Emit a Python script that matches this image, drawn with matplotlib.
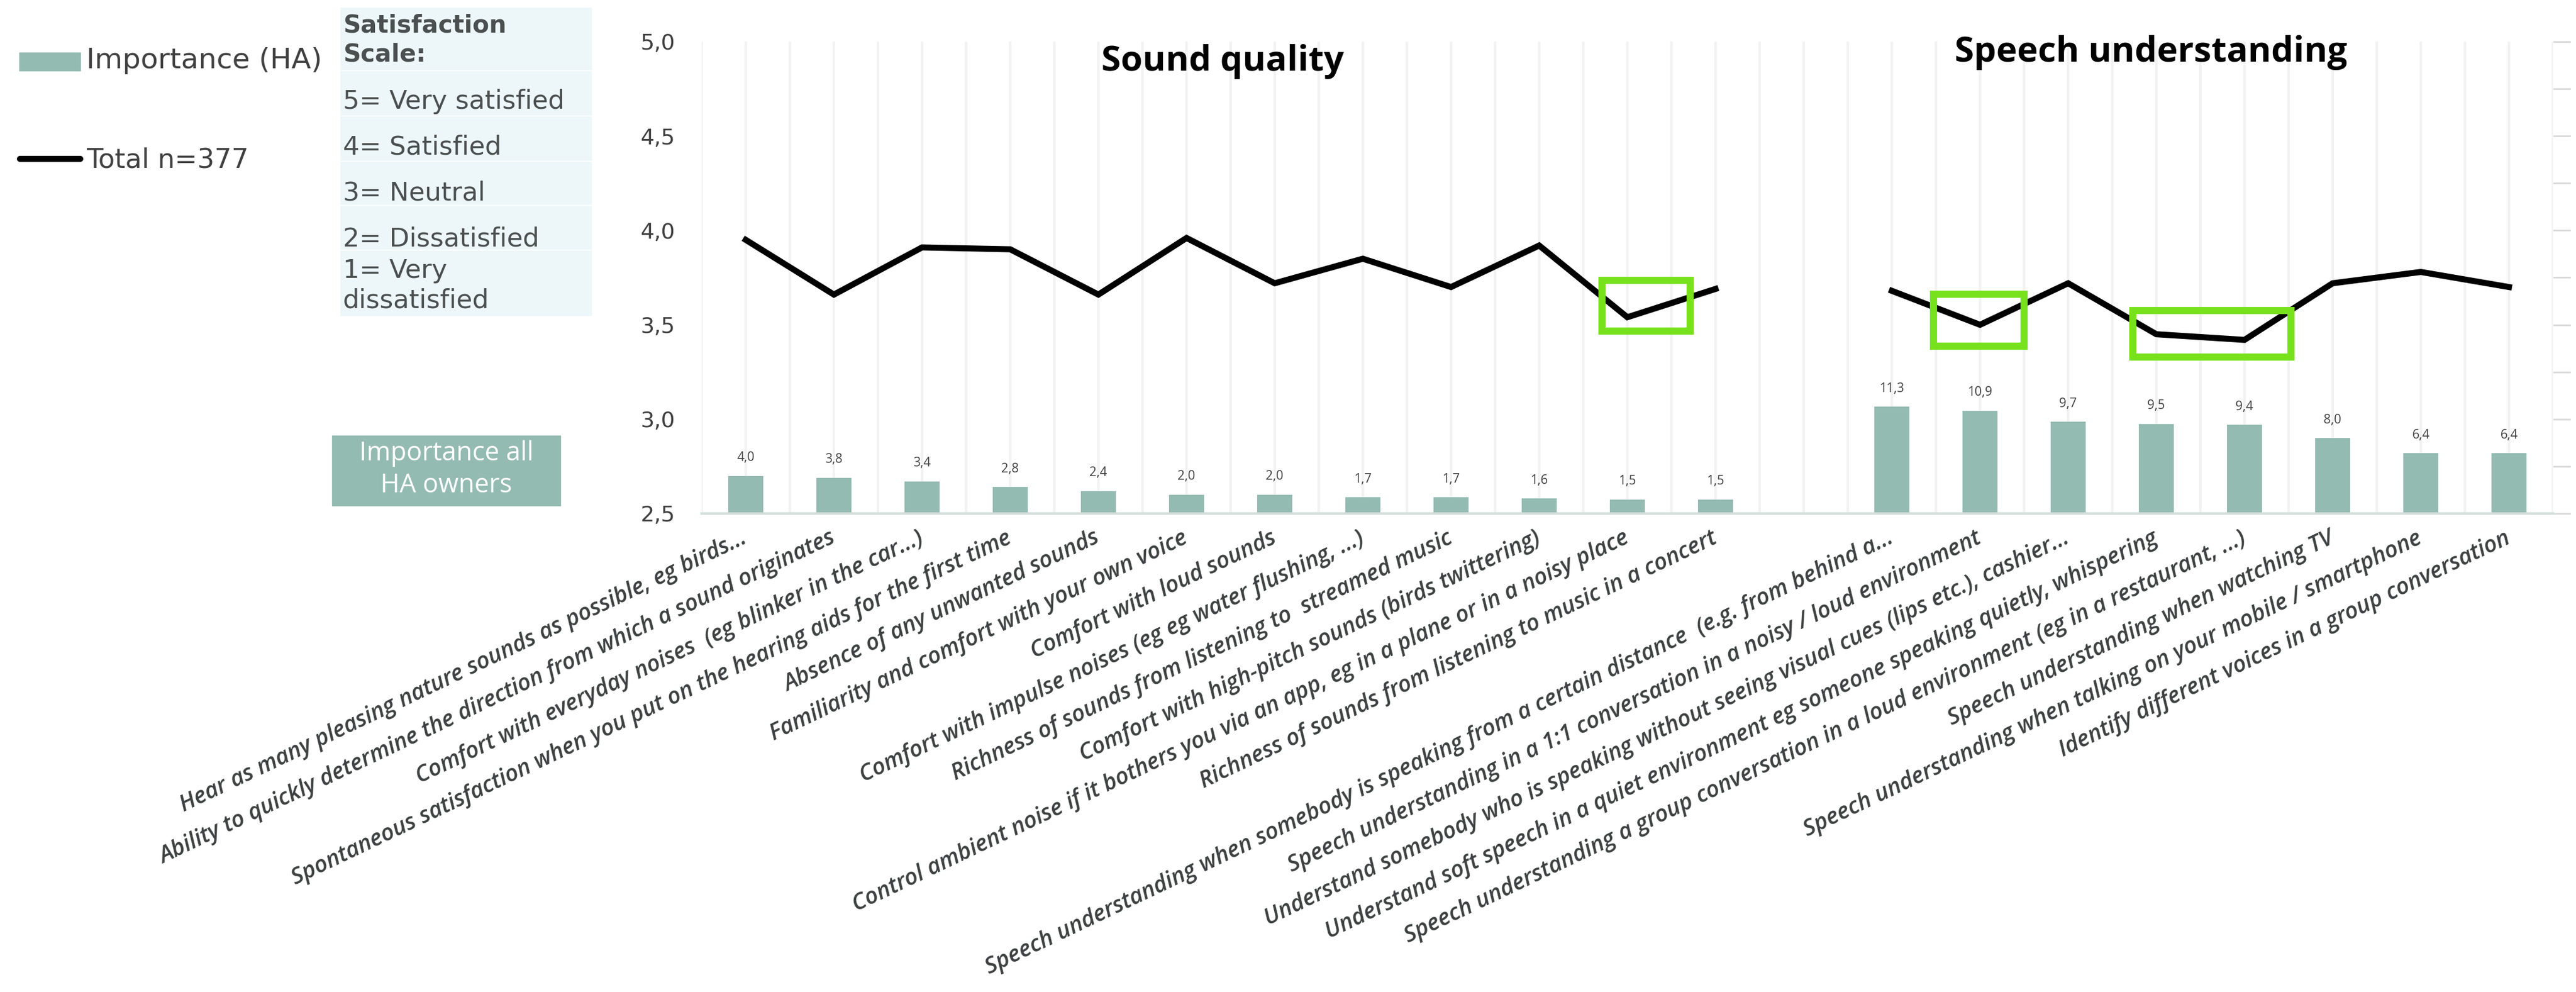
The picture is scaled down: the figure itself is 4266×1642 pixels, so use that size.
import numpy as np
import matplotlib
matplotlib.use("Agg")
import matplotlib.pyplot as plt
from matplotlib.patches import Rectangle
from matplotlib.lines import Line2D

# ---------------------------------------------------------------- data
sound_labels = [
    "Hear as many pleasing nature sounds as possible, eg birds...",
    "Ability to quickly determine the direction from which a sound originates",
    "Comfort with everyday noises  (eg blinker in the car...)",
    "Spontaneous satisfaction when you put on the hearing aids for the first time",
    "Absence of any unwanted sounds",
    "Familiarity and comfort with your own voice",
    "Comfort with loud sounds",
    "Comfort with impulse noises (eg eg water flushing, ...)",
    "Richness of sounds from listening to  streamed music",
    "Comfort with high-pitch sounds (birds twittering)",
    "Control ambient noise if it bothers you via an app, eg in a plane or in a noisy place",
    "Richness of sounds from listening to music in a concert",
]
speech_labels = [
    "Speech understanding when somebody is speaking from a certain distance  (e.g. from behind a...",
    "Speech understanding in a 1:1 conversation in a noisy / loud environment",
    "Understand somebody who is speaking without seeing visual cues (lips etc.), cashier...",
    "Understand soft speech in a quiet environment eg someone speaking quietly, whispering",
    "Speech understanding a group conversation in a loud environment (eg in a restaurant, ...)",
    "Speech understanding when watching TV",
    "Speech understanding when talking on your mobile / smartphone",
    "Identify different voices in a group conversation",
]
sound_importance = [4.0, 3.8, 3.4, 2.8, 2.4, 2.0, 2.0, 1.7, 1.7, 1.6, 1.5, 1.5]
speech_importance = [11.3, 10.9, 9.7, 9.5, 9.4, 8.0, 6.4, 6.4]
sound_satisfaction = [3.95, 3.66, 3.91, 3.90, 3.66, 3.96, 3.72, 3.85, 3.70, 3.92, 3.54, 3.69]
speech_satisfaction = [3.68, 3.50, 3.72, 3.45, 3.42, 3.72, 3.78, 3.70]
group_titles = ["Sound quality", "Speech understanding"]
scale_title = ["Satisfaction", "Scale:"]
scale_rows = ["5= Very satisfied", "4= Satisfied", "3= Neutral",
              "2= Dissatisfied", "1= Very\ndissatisfied"]
# hand-placed frames around the weakest items: (x from, x to, y from, y to)
highlight_frames = [(9.71, 10.71, 3.467, 3.736),
                    (13.47, 14.50, 3.387, 3.662),
                    (15.73, 17.53, 3.329, 3.576)]
sat_ticks = [2.5, 3.0, 3.5, 4.0, 4.5, 5.0]

# ---------------------------------------------------------------- layout
W, H, DPI = 4266, 1642, 100
TEAL = "#94bbb1"
GREEN = "#77e21b"
DARK = "#404040"
SCALE_TXT = "#4a4f50"
CELL = "#edf6f8"


def fx(px):
    return px / W


def fy(py):
    return 1 - py / H


labels = sound_labels + [""] + speech_labels
importance = np.array(sound_importance + [np.nan] + speech_importance)
satisfaction = np.array(sound_satisfaction + [np.nan] + speech_satisfaction)
x = np.arange(len(labels))

fig = plt.figure(figsize=(W / DPI, H / DPI), dpi=DPI)
ax = fig.add_axes([fx(1162), fy(850), fx(4228) - fx(1162), fy(69) - fy(850)])
ax2 = ax.twinx()

# bars (importance) on the right-hand scale
ok = ~np.isnan(importance)
ax.bar(x[ok], importance[ok], width=0.4, color=TEAL, zorder=2)
for xi, v in zip(x[ok], importance[ok]):
    ax.annotate(f"{v:.1f}".replace(".", ","), (xi, v), xytext=(0, 14),
                textcoords="offset points", ha="center", va="bottom",
                fontsize=15, color=DARK, family="Open Sans")
ax.set_ylim(0, 50)
ax.set_yticks(np.arange(0, 51, 5))
ax.yaxis.tick_right()
ax.tick_params(axis="y", length=21, width=2, color="#d9d9d9", labelright=False)
ax.set_xlim(-0.5, len(labels) - 0.5)
ax.set_xticks(x)
ax.set_xticks(np.arange(-0.5, len(labels), 1.0), minor=True)
ax.grid(which="both", axis="x", color="#f2f2f2", lw=3, zorder=0)
ax.set_axisbelow(True)
ax.set_xticklabels(labels, rotation=25.5, ha="right", va="center",
                   rotation_mode="anchor", fontsize=27.3, style="italic",
                   family="Open Sans", fontweight="semibold", color="#3c3f3f")
ax.tick_params(axis="x", which="both", length=0, pad=28)
for side in ("top", "left", "right"):
    ax.spines[side].set_visible(False)
ax.spines["bottom"].set_color("#d3dedb")
ax.spines["bottom"].set_linewidth(3)

# line (satisfaction) on the left-hand scale
ax2.plot(x, satisfaction, color="black", lw=7.2, solid_joinstyle="miter", zorder=5)
ax2.set_ylim(2.5, 5.0)
ax2.set_yticks(sat_ticks)
ax2.set_yticklabels([f"{t:.1f}".replace(".", ",") for t in sat_ticks],
                    fontsize=26, color=DARK, family="DejaVu Sans")
ax2.yaxis.tick_left()
ax2.tick_params(axis="y", length=0, pad=32)
for side in ("top", "left", "right", "bottom"):
    ax2.spines[side].set_visible(False)

# frames around the weakest items
for x0, x1, y0, y1 in highlight_frames:
    ax2.add_patch(Rectangle((x0, y0), x1 - x0, y1 - y0, fill=False,
                            edgecolor=GREEN, lw=8.5, zorder=6))

# group headings
ax2.text(5.41, 4.845, group_titles[0], ha="center", va="baseline",
         fontsize=42, fontweight="bold", family="Open Sans", color="black")
ax2.text(15.94, 4.895, group_titles[1], ha="center", va="baseline",
         fontsize=42, fontweight="bold", family="Open Sans", color="black")

# ---------------------------------------------------------------- legend
fig.patches.append(Rectangle((fx(32), fy(117)), fx(133) - fx(32), 30 / H,
                             transform=fig.transFigure, color=TEAL))
fig.text(fx(143), fy(113), "Importance (HA)", fontsize=34, color=DARK,
         family="DejaVu Sans", va="baseline", ha="left")
fig.add_artist(Line2D([fx(33), fx(133)], [fy(263), fy(263)], lw=7.2,
                      color="black", solid_capstyle="round",
                      transform=fig.transFigure))
fig.text(fx(143), fy(277), "Total n=377", fontsize=32, color=DARK,
         family="DejaVu Sans", va="baseline", ha="left")

# satisfaction scale table
row_edges = [(13, 115), (118, 190), (193, 265), (268, 338), (341, 412), (415, 522)]
for top, bottom in row_edges:
    fig.patches.append(Rectangle((fx(564), fy(bottom)), fx(979) - fx(564),
                                 (bottom - top) / H, transform=fig.transFigure,
                                 color=CELL))
for line, base in zip(scale_title, [53, 102]):
    fig.text(fx(568), fy(base), line, fontsize=29, fontweight="bold",
             color=SCALE_TXT, family="DejaVu Sans", va="baseline")
baselines = [180, 255, 332, 407, 460]
for row, base in zip(scale_rows, baselines):
    for k, line in enumerate(row.split("\n")):
        fig.text(fx(568), fy(base + 50 * k), line, fontsize=31,
                 color=SCALE_TXT, family="DejaVu Sans", va="baseline")

# importance caption box
fig.patches.append(Rectangle((fx(550), fy(837)), fx(928) - fx(550), 116 / H,
                             transform=fig.transFigure, color=TEAL))
fig.text(fx(739), fy(762), "Importance all", fontsize=31, color="white",
         family="Open Sans", ha="center", va="baseline")
fig.text(fx(739), fy(815), "HA owners", fontsize=31, color="white",
         family="Open Sans", ha="center", va="baseline")

fig.savefig("out.png", dpi=DPI, facecolor="white")
